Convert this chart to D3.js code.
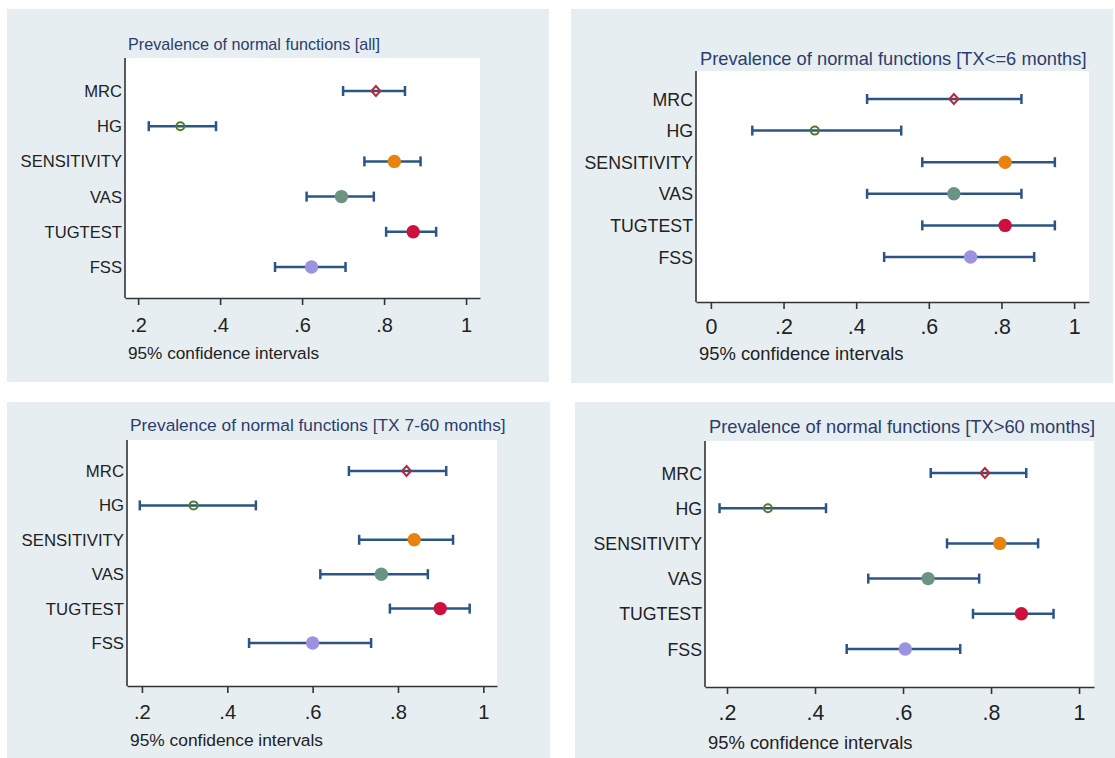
<!DOCTYPE html>
<html>
<head>
<meta charset="utf-8">
<script src="https://cdn.jsdelivr.net/npm/d3@7"></script>
<style>
  html, body { margin: 0; padding: 0; background: #ffffff; }
  svg { display: block; font-family: "Liberation Sans", Arial, sans-serif; }
</style>
</head>
<body>
<svg id="chart" width="1115" height="758"></svg>
<script>
// ---------- DATA ----------
const categories = ["MRC", "HG", "SENSITIVITY", "VAS", "TUGTEST", "FSS"];

const titles = [
  "Prevalence of normal functions [all]",
  "Prevalence of normal functions [TX<=6 months]",
  "Prevalence of normal functions [TX 7-60 months]",
  "Prevalence of normal functions [TX>60 months]"
];
const xLabel = "95% confidence intervals";

const ticksAll = [0.2, 0.4, 0.6, 0.8, 1];
const ticksEarly = [0, 0.2, 0.4, 0.6, 0.8, 1];

// estimates, lower and upper 95% CI limits (order of categories)
const allEst = [0.780, 0.303, 0.825, 0.696, 0.871, 0.623];
const allLo  = [0.700, 0.226, 0.752, 0.611, 0.805, 0.534];
const allHi  = [0.851, 0.390, 0.889, 0.775, 0.927, 0.706];

const earlyEst = [0.669, 0.286, 0.810, 0.669, 0.810, 0.715];
const earlyLo  = [0.430, 0.114, 0.582, 0.430, 0.582, 0.477];
const earlyHi  = [0.855, 0.524, 0.947, 0.855, 0.947, 0.890];

const midEst = [0.820, 0.321, 0.838, 0.761, 0.899, 0.600];
const midLo  = [0.685, 0.195, 0.709, 0.618, 0.781, 0.451];
const midHi  = [0.913, 0.467, 0.929, 0.870, 0.968, 0.737];

const lateEst = [0.786, 0.293, 0.820, 0.657, 0.869, 0.605];
const lateLo  = [0.663, 0.183, 0.700, 0.521, 0.759, 0.472];
const lateHi  = [0.880, 0.425, 0.907, 0.773, 0.942, 0.730];

// ---------- STYLE ----------
const markerStyle = {
  MRC:         { shape: "diamond", hollow: true,  color: "#b42a3a" },
  HG:          { shape: "circle",  hollow: true,  color: "#4f7d2b" },
  SENSITIVITY: { shape: "circle",  hollow: false, color: "#e8830f" },
  VAS:         { shape: "circle",  hollow: false, color: "#6b9383" },
  TUGTEST:     { shape: "circle",  hollow: false, color: "#cf0f3c" },
  FSS:         { shape: "circle",  hollow: false, color: "#9d92df" }
};
const barColor = "#2a5585";
const panelBg = "#e7eef2";
const titleColor = "#2b3d6b";

// ---------- LAYOUT ----------
const layouts = [
  { bg: [7, 9, 549, 382],   plot: [125, 58, 480, 298],  dom: [0.168, 1.034], rows: [91, 267],
    title: [128, 44],  tickY: 325, xlab: [128, 353], tfs: 1.0, fs: 1.0 },
  { bg: [571, 9, 1113, 383], plot: [696, 71, 1089, 302], dom: [-0.041, 1.041], rows: [99, 257],
    title: [700, 58],  tickY: 327, xlab: [699, 353], tfs: 1.13, fs: 1.07 },
  { bg: [7, 402, 550, 758],  plot: [127, 440, 497, 686], dom: [0.165, 1.032], rows: [471, 643],
    title: [130, 425], tickY: 712, xlab: [130, 740], tfs: 1.07, fs: 1.01 },
  { bg: [575, 402, 1115, 758], plot: [705, 441, 1094, 687], dom: [0.150, 1.034], rows: [473, 649],
    title: [709, 426], tickY: 713, xlab: [708, 742], tfs: 1.13, fs: 1.07 }
];

const panels = [
  { est: allEst,   lo: allLo,   hi: allHi,   ticks: ticksAll },
  { est: earlyEst, lo: earlyLo, hi: earlyHi, ticks: ticksEarly },
  { est: midEst,   lo: midLo,   hi: midHi,   ticks: ticksAll },
  { est: lateEst,  lo: lateLo,  hi: lateHi,  ticks: ticksAll }
];

const fmt = v => (v === 0 ? "0" : v === 1 ? "1" : String(v).replace(/^0/, ""));

const svg = d3.select("#chart");

panels.forEach((p, i) => {
  const L = layouts[i];
  const g = svg.append("g");

  // panel background
  g.append("rect")
    .attr("x", L.bg[0]).attr("y", L.bg[1])
    .attr("width", L.bg[2] - L.bg[0]).attr("height", L.bg[3] - L.bg[1])
    .attr("fill", panelBg);

  // plot region
  g.append("rect")
    .attr("x", L.plot[0]).attr("y", L.plot[1])
    .attr("width", L.plot[2] - L.plot[0]).attr("height", L.plot[3] - L.plot[1])
    .attr("fill", "#ffffff");

  const x = d3.scaleLinear().domain(L.dom).range([L.plot[0], L.plot[2]]);
  const y = d3.scalePoint().domain(categories).range(L.rows);

  // title
  g.append("text")
    .attr("x", L.title[0]).attr("y", L.title[1])
    .attr("dominant-baseline", "central")
    .attr("font-size", 16.2 * L.tfs).attr("fill", titleColor)
    .text(titles[i]);

  // x axis
  const xAxis = d3.axisBottom(x).tickValues(p.ticks).tickFormat(fmt)
    .tickSizeInner(7).tickSizeOuter(0).tickPadding(10);
  const xa = g.append("g").attr("transform", `translate(0,${L.plot[3]})`).call(xAxis);
  xa.select(".domain").attr("stroke", "#333").attr("stroke-width", 1.6);
  xa.selectAll(".tick line").attr("stroke", "#333").attr("stroke-width", 1.6);
  xa.selectAll(".tick text")
    .attr("font-size", 20 * L.fs).attr("fill", "#222")
    .attr("font-family", "\"Liberation Sans\", Arial, sans-serif")
    .attr("dy", null).attr("y", L.tickY - L.plot[3])
    .attr("dominant-baseline", "central");

  // y axis
  const yAxis = d3.axisLeft(y).tickSize(0).tickPadding(3);
  const ya = g.append("g").attr("transform", `translate(${L.plot[0]},0)`).call(yAxis);
  ya.select(".domain").remove();
  ya.selectAll(".tick text")
    .attr("font-size", 16.6 * L.fs).attr("fill", "#222")
    .attr("font-family", "\"Liberation Sans\", Arial, sans-serif")
    .attr("dy", null).attr("dominant-baseline", "central");
  g.append("line")
    .attr("x1", L.plot[0]).attr("x2", L.plot[0])
    .attr("y1", L.plot[1]).attr("y2", L.plot[3])
    .attr("stroke", "#333").attr("stroke-width", 1.6);

  // x-axis label
  g.append("text")
    .attr("x", L.xlab[0]).attr("y", L.xlab[1])
    .attr("dominant-baseline", "central")
    .attr("font-size", 17.2 * L.fs).attr("fill", "#222")
    .text(xLabel);

  // error bars + markers
  const rows = categories.map((c, k) => ({ cat: c, est: p.est[k], lo: p.lo[k], hi: p.hi[k] }));
  const capH = 5;
  const bars = g.append("g").attr("stroke", barColor).attr("stroke-width", 2.5);
  rows.forEach(r => {
    const yy = y(r.cat);
    bars.append("line").attr("x1", x(r.lo)).attr("x2", x(r.hi)).attr("y1", yy).attr("y2", yy);
    bars.append("line").attr("x1", x(r.lo)).attr("x2", x(r.lo)).attr("y1", yy - capH).attr("y2", yy + capH);
    bars.append("line").attr("x1", x(r.hi)).attr("x2", x(r.hi)).attr("y1", yy - capH).attr("y2", yy + capH);
  });

  rows.forEach(r => {
    const s = markerStyle[r.cat];
    const cx = x(r.est), cy = y(r.cat);
    if (s.shape === "diamond") {
      g.append("path")
        .attr("d", `M${cx},${cy - 5}L${cx + 4.5},${cy}L${cx},${cy + 5}L${cx - 4.5},${cy}Z`)
        .attr("fill", "none").attr("stroke", s.color).attr("stroke-width", 2);
    } else if (s.hollow) {
      g.append("circle").attr("cx", cx).attr("cy", cy).attr("r", 4)
        .attr("fill", "none").attr("stroke", s.color).attr("stroke-width", 2);
    } else {
      g.append("circle").attr("cx", cx).attr("cy", cy).attr("r", 6.7)
        .attr("fill", s.color);
    }
  });
});
</script>
</body>
</html>
